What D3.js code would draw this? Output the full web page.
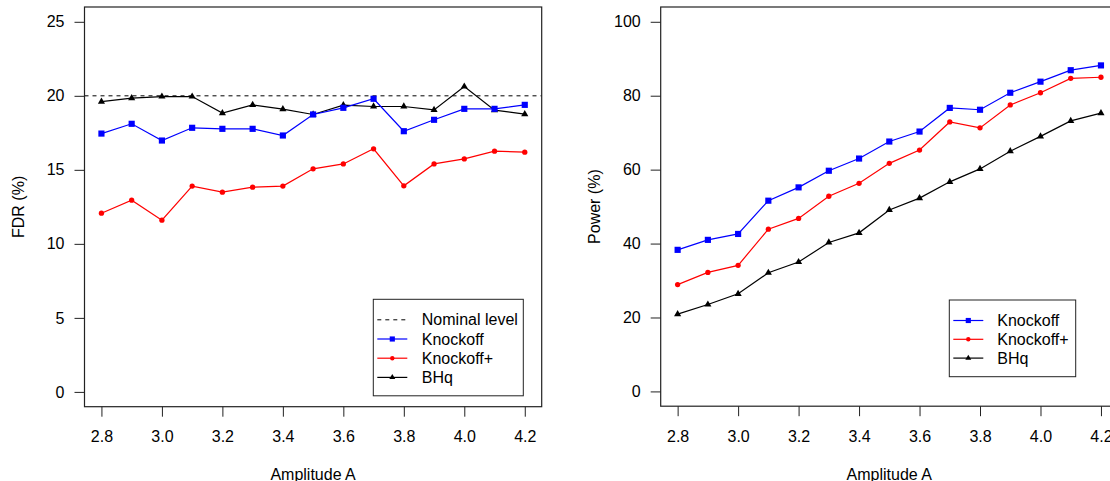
<!DOCTYPE html>
<html>
<head>
<meta charset="utf-8">
<script src="https://cdn.jsdelivr.net/npm/d3@7"></script>
<style>
  body { margin: 0; background: #fff; }
  svg { display: block; font-family: "Liberation Sans", Arial, sans-serif; }
</style>
</head>
<body>
<svg id="chart" width="1110" height="481"></svg>
<script>
// amplitude values on the x axis
const amplitude = [2.8, 2.9, 3.0, 3.1, 3.2, 3.3, 3.4, 3.5, 3.6, 3.7, 3.8, 3.9, 4.0, 4.1, 4.2];
const ampTicks = [2.8, 3.0, 3.2, 3.4, 3.6, 3.8, 4.0, 4.2];

// FDR (%) panel
const fdrKnockoff = [17.45, 18.11, 16.98, 17.84, 17.77, 17.77, 17.32, 18.74, 19.19, 19.80, 17.61, 18.38, 19.12, 19.12, 19.39];
const fdrKnockoffPlus = [12.07, 12.95, 11.60, 13.90, 13.49, 13.83, 13.90, 15.07, 15.40, 16.42, 13.92, 15.40, 15.74, 16.26, 16.19];
const fdrBHq = [19.61, 19.84, 19.95, 19.95, 18.83, 19.39, 19.10, 18.74, 19.37, 19.28, 19.28, 19.05, 20.63, 19.03, 18.76];
const nominalLevel = 20;
const fdrTicks = [0, 5, 10, 15, 20, 25];

// Power (%) panel
const powerKnockoff = [38.3, 41.0, 42.6, 51.6, 55.2, 59.7, 63.0, 67.6, 70.3, 76.7, 76.2, 80.8, 83.8, 86.9, 88.2];
const powerKnockoffPlus = [28.9, 32.2, 34.1, 43.9, 46.8, 52.8, 56.3, 61.7, 65.3, 72.9, 71.3, 77.5, 80.8, 84.7, 85.0];
const powerBHq = [20.9, 23.5, 26.4, 32.1, 35.0, 40.3, 42.9, 49.1, 52.3, 56.7, 60.2, 65.0, 69.0, 73.2, 75.3];
const powerTicks = [0, 20, 40, 60, 80, 100];

const svg = d3.select("#chart");
const fontSize = 16;

const styles = {
    knockoff: {color: "#0000ff", symbol: d3.symbolSquare, size: 38},
    knockoffPlus: {color: "#ff0000", symbol: d3.symbolCircle, size: 22},
    bhq: {color: "#000000", symbol: d3.symbolTriangle, size: 22}
};

function drawPanel(opts) {
    const x = d3.scaleLinear()
        .domain([2.744, 4.256])
        .range([opts.left, opts.right]);
    const y = d3.scaleLinear()
        .domain(opts.yDomain)
        .range([opts.bottom, opts.top]);

    const g = svg.append("g");

    // bottom axis
    const xAxis = g.append("g")
        .attr("transform", `translate(0,${opts.bottom})`)
        .call(d3.axisBottom(x).tickValues(ampTicks).tickFormat(d3.format(".1f")).tickSize(10).tickPadding(14));
    xAxis.select(".domain").remove();

    // left axis
    const yAxis = g.append("g")
        .attr("transform", `translate(${opts.left},0)`)
        .call(d3.axisLeft(y).tickValues(opts.yTicks).tickSize(10).tickPadding(10));
    yAxis.select(".domain").remove();

    g.selectAll(".tick text")
        .attr("font-size", fontSize)
        .attr("font-family", "Liberation Sans, Arial, sans-serif")
        .attr("fill", "#000");
    g.selectAll(".tick line").attr("stroke", "#222");

    // axis titles
    g.append("text")
        .attr("x", (opts.left + opts.right) / 2)
        .attr("y", 480)
        .attr("text-anchor", "middle")
        .attr("font-size", fontSize)
        .text("Amplitude A");

    g.append("text")
        .attr("transform", `translate(${opts.titleX},${(opts.top + opts.bottom) / 2}) rotate(-90)`)
        .attr("text-anchor", "middle")
        .attr("font-size", fontSize)
        .text(opts.yTitle);

    // nominal level
    if (opts.nominal != null) {
        g.append("line")
            .attr("x1", opts.left).attr("x2", opts.right)
            .attr("y1", y(opts.nominal)).attr("y2", y(opts.nominal))
            .attr("stroke", "#000")
            .attr("stroke-dasharray", "4,4");
    }

    const line = d3.line()
        .x((d, i) => x(amplitude[i]))
        .y(d => y(d));

    opts.series.forEach(s => {
        const st = styles[s.key];
        g.append("path")
            .datum(s.values)
            .attr("fill", "none")
            .attr("stroke", st.color)
            .attr("stroke-width", 1.2)
            .attr("d", line);
        g.selectAll(null)
            .data(s.values)
            .enter()
            .append("path")
            .attr("transform", (d, i) => `translate(${x(amplitude[i])},${y(d)})`)
            .attr("d", d3.symbol().type(st.symbol).size(st.size))
            .attr("fill", st.color);
    });

    // plot box
    g.append("rect")
        .attr("x", opts.left).attr("y", opts.top)
        .attr("width", opts.right - opts.left)
        .attr("height", opts.bottom - opts.top)
        .attr("fill", "none")
        .attr("stroke", "#222")
        .attr("stroke-width", 1.2);

    // legend
    const lg = g.append("g");
    const L = opts.legend;
    lg.append("rect")
        .attr("x", L.x).attr("y", L.y)
        .attr("width", L.w).attr("height", L.h)
        .attr("fill", "#fff")
        .attr("stroke", "#222");
    L.items.forEach((it, i) => {
        const cy = L.y + L.firstRow + i * L.rowGap;
        const x1 = L.x + 4, x2 = L.x + 34, cx = (x1 + x2) / 2;
        if (it.key === "nominal") {
            lg.append("line")
                .attr("x1", x1).attr("x2", x2).attr("y1", cy).attr("y2", cy)
                .attr("stroke", "#000").attr("stroke-dasharray", "4,4");
        } else {
            const st = styles[it.key];
            lg.append("line")
                .attr("x1", x1).attr("x2", x2).attr("y1", cy).attr("y2", cy)
                .attr("stroke", st.color).attr("stroke-width", 1.2);
            lg.append("path")
                .attr("transform", `translate(${cx},${cy})`)
                .attr("d", d3.symbol().type(st.symbol).size(st.size * 0.7))
                .attr("fill", st.color);
        }
        lg.append("text")
            .attr("x", L.x + L.textOffset)
            .attr("y", cy)
            .attr("dy", "0.35em")
            .attr("font-size", fontSize)
            .text(it.label);
    });
}

drawPanel({
    left: 84.5, right: 541.7, top: 7, bottom: 406.7,
    yDomain: [-1, 26], yTicks: fdrTicks,
    yTitle: "FDR (%)", titleX: 24,
    nominal: nominalLevel,
    series: [
        {key: "bhq", values: fdrBHq},
        {key: "knockoff", values: fdrKnockoff},
        {key: "knockoffPlus", values: fdrKnockoffPlus}
    ],
    legend: {
        x: 373.3, y: 299.3, w: 150, h: 96.5, firstRow: 20.5, rowGap: 19.2, textOffset: 48.5,
        items: [
            {key: "nominal", label: "Nominal level"},
            {key: "knockoff", label: "Knockoff"},
            {key: "knockoffPlus", label: "Knockoff+"},
            {key: "bhq", label: "BHq"}
        ]
    }
});

drawPanel({
    left: 660.7, right: 1117.9, top: 7, bottom: 406.2,
    yDomain: [-4, 104], yTicks: powerTicks,
    yTitle: "Power (%)", titleX: 600,
    nominal: null,
    series: [
        {key: "bhq", values: powerBHq},
        {key: "knockoffPlus", values: powerKnockoffPlus},
        {key: "knockoff", values: powerKnockoff}
    ],
    legend: {
        x: 949.3, y: 300, w: 126.4, h: 76.7, firstRow: 20.5, rowGap: 18.8, textOffset: 48,
        items: [
            {key: "knockoff", label: "Knockoff"},
            {key: "knockoffPlus", label: "Knockoff+"},
            {key: "bhq", label: "BHq"}
        ]
    }
});
</script>
</body>
</html>
